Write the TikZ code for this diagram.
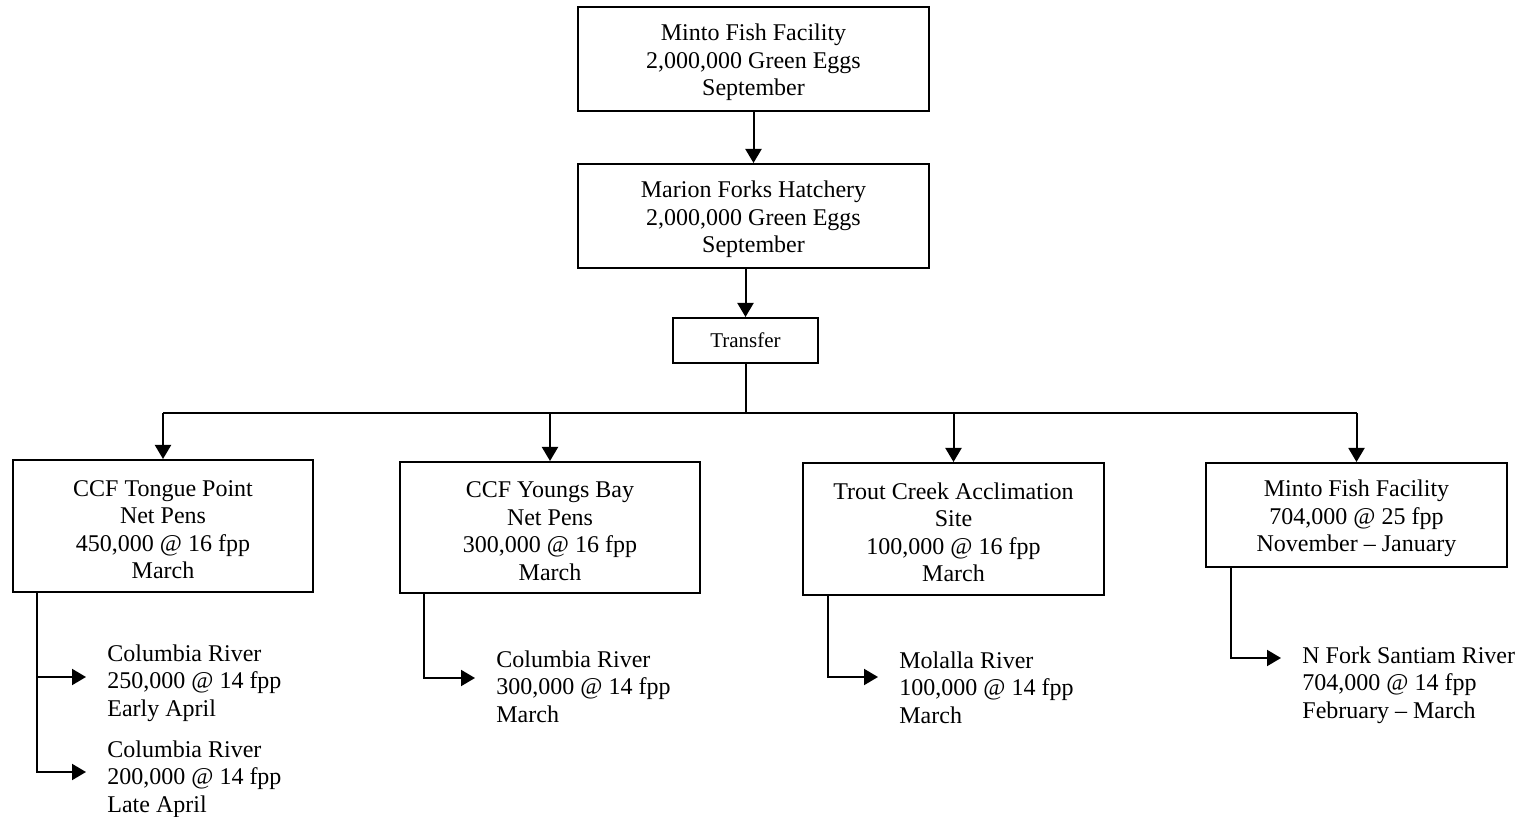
\documentclass[tikz,border=0pt]{standalone}
\usepackage{fontspec}
\setmainfont{Liberation Serif}
\usetikzlibrary{arrows.meta}
\newcommand\myhstrut{\rule{0pt}{11.6pt}}
\begin{document}
\begin{tikzpicture}[x=0.5pt,y=-0.5pt,
  txt/.style={font=\fontsize{12pt}{13.75pt}\selectfont},
  box/.style={txt, draw, line width=1pt, align=center, inner sep=0pt},
  lbl/.style={txt, align=left, anchor=west, inner ysep=0pt, inner xsep=10.5pt},
  link/.style={line width=1pt},
  arr/.style={link, -{Triangle[width=8pt,length=7pt]}}]
\useasboundingbox (0,0) rectangle (1520,817);
% top boxes
\node[box, minimum width=175.5pt, minimum height=52pt] (mff) at (753.5,59)
  {\myhstrut Minto Fish Facility\\2,000,000 Green Eggs\\September};
\node[box, minimum width=175.5pt, minimum height=52pt] (mfh) at (753.5,216)
  {\myhstrut Marion Forks Hatchery\\2,000,000 Green Eggs\\September};
\node[draw, line width=1pt, inner sep=0pt, font=\fontsize{10.5pt}{12pt}\selectfont, minimum width=72.5pt, minimum height=22.5pt] (tr) at (745.5,340.5)
  {Transfer};
% lower boxes
\node[box, minimum width=150pt, minimum height=66pt] (tp) at (163,526)
  {\myhstrut CCF Tongue Point\\Net Pens\\450,000 @ 16 fpp\\March};
\node[box, minimum width=150pt, minimum height=65.5pt] (yb) at (550,527.5)
  {\myhstrut CCF Youngs Bay\\Net Pens\\300,000 @ 16 fpp\\March};
\node[box, minimum width=150.5pt, minimum height=66pt] (tc) at (953.5,529)
  {\myhstrut Trout Creek Acclimation\\Site\\100,000 @ 16 fpp\\March};
\node[box, minimum width=150.5pt, minimum height=52pt] (m2) at (1356.5,515)
  {\myhstrut Minto Fish Facility\\704,000 @ 25 fpp\\November -- January};
% release labels
\node[lbl] (l1) at (86,679.5) {\myhstrut Columbia River\\250,000 @ 14 fpp\\Early April};
\node[lbl] (l2) at (86,775.5) {\myhstrut Columbia River\\200,000 @ 14 fpp\\Late April};
\node[lbl] (l3) at (475,683.5) {\myhstrut Columbia River\\300,000 @ 14 fpp\\March};
\node[lbl] (l4) at (878,684.5) {\myhstrut Molalla River\\100,000 @ 14 fpp\\March};
\node[lbl] (l5) at (1281,681.5) {\myhstrut N Fork Santiam River\\704,000 @ 14 fpp\\February -- March};
% vertical chain
\draw[arr] (mff) -- (mfh);
\draw[arr] (mfh.south -| tr.north) -- (tr.north);
\coordinate (bus) at (744,413);
\draw[link] (tr.south) -- (tr.south |- bus);
\draw[link] (tp.north |- bus) -- (m2.north |- bus);
\draw[arr] (tp.north |- bus) -- (tp.north);
\draw[arr] (yb.north |- bus) -- (yb.north);
\draw[arr] (tc.north |- bus) -- (tc.north);
\draw[arr] (m2.north |- bus) -- (m2.north);
% branches
\coordinate (tpb) at ([xshift=12.5pt]tp.south west);
\coordinate (ybb) at ([xshift=12.5pt]yb.south west);
\coordinate (tcb) at ([xshift=13pt]tc.south west);
\coordinate (m2b) at ([xshift=13pt]m2.south west);
\coordinate (l1in) at ([yshift=1.25pt]l1.west);
\coordinate (l2in) at ([yshift=1.75pt]l2.west);
\coordinate (l3in) at ([yshift=2.75pt]l3.west);
\coordinate (l4in) at ([yshift=3.75pt]l4.west);
\coordinate (l5in) at ([yshift=11.75pt]l5.west);
\draw[arr] (tpb) |- (l2in);
\draw[arr] (tpb |- l1in) -- (l1in);
\draw[arr] (ybb) |- (l3in);
\draw[arr] (tcb) |- (l4in);
\draw[arr] (m2b) |- (l5in);
\end{tikzpicture}
\end{document}
